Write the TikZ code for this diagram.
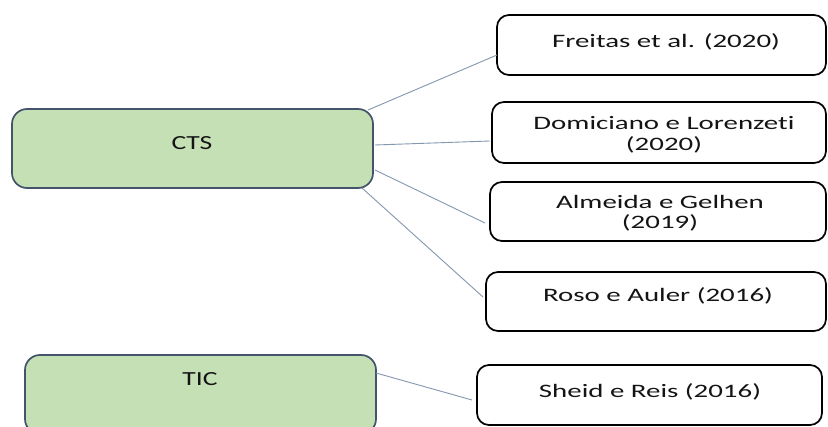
\documentclass[tikz,border=0pt]{standalone}
\usepackage{fontspec}
\newfontfamily\wfont[FakeStretch=1.52,Ligatures=NoCommon]{Carlito}
\newfontfamily\gfont[FakeStretch=1.38,Ligatures=NoCommon]{Carlito}
\definecolor{boxgreen}{HTML}{C5E0B4}
\definecolor{greenedge}{HTML}{44546A}
\definecolor{linkcol}{HTML}{8497B0}
\definecolor{txt}{HTML}{141414}
\tikzset{
  greenbox/.style={draw=greenedge, line width=1.7pt, fill=boxgreen, rounded corners=15pt, inner sep=0pt},
  refbox/.style={draw=black, line width=1.7pt, fill=white, rounded corners=12pt, inner sep=0pt},
  gtext/.style={text=txt, font=\gfont\fontsize{20}{22}\selectfont, inner sep=0pt},
  rtext/.style={text=txt, font=\wfont\fontsize{19}{20.5}\selectfont, align=center, inner sep=0pt},
  link/.style={draw=linkcol, line width=0.9pt}
}
\begin{document}
\begin{tikzpicture}[x=1pt,y=-1pt]
\useasboundingbox (0,0) rectangle (828,427);
\clip (0,0) rectangle (828,427);
\fill[white] (0,0) rectangle (828,427);
% left boxes
\node[greenbox, minimum width=361pt, minimum height=79pt] (cts) at (192.5,148.5) {};
\node[greenbox, minimum width=351pt, minimum height=79pt] (tic) at (200.5,394.5) {};
\node[gtext] (ctst) at (192,143) {CTS};
\node[gtext] (tict) at (200,379) {TIC};
% right boxes
\node[refbox, minimum width=329pt, minimum height=60pt] (fre) at (661.5,45) {};
\node[refbox, minimum width=334pt, minimum height=61pt] (dom) at (659,132.5) {};
\node[refbox, minimum width=336pt, minimum height=59pt] (alm) at (658,211.5) {};
\node[refbox, minimum width=340pt, minimum height=59pt] (ros) at (656,301.5) {};
\node[refbox, minimum width=345pt, minimum height=60pt] (she) at (649.5,395) {};
\node[rtext] (fret) at (666,42) {Freitas et al. (2020)};
\node[rtext] (domt) at (664,135) {Domiciano e Lorenzeti\\(2020)};
\node[rtext] (almt) at (660,213) {Almeida e Gelhen\\(2019)};
\node[rtext] (rost) at (658,296) {Roso e Auler (2016)};
\node[rtext] (shet) at (650,392) {Sheid e Reis (2016)};
% connector end points
\coordinate (c1) at (368,110);
\coordinate (c2) at (375,145);
\coordinate (c3) at (375,170);
\coordinate (c4) at (362,188);
\coordinate (c5) at (376,373);
\coordinate (e1) at (497,55);
\coordinate (e2) at (490,141);
\coordinate (e3) at (485,223);
\coordinate (e4) at (483,297);
\coordinate (e5) at (472,400);
\draw[link] (c1) -- (e1);
\draw[link] (c2) -- (e2);
\draw[link] (c3) -- (e3);
\draw[link] (c4) -- (e4);
\draw[link] (c5) -- (e5);
\end{tikzpicture}
\end{document}
